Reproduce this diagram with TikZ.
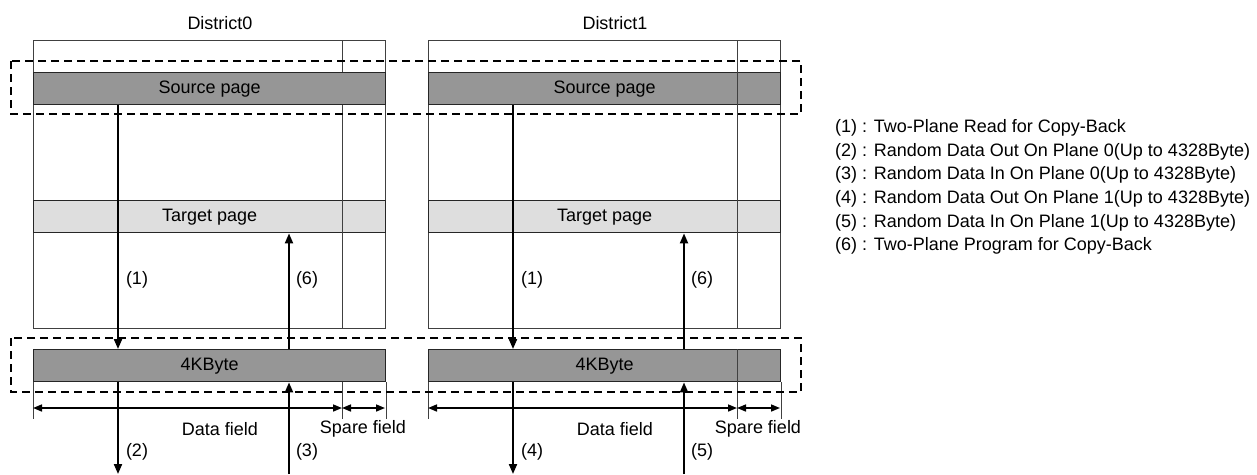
\documentclass[tikz,border=0pt]{standalone}
\usepackage{fontspec}
\setmainfont{Liberation Sans}
\usetikzlibrary{arrows.meta}
\definecolor{bardark}{gray}{0.59}
\definecolor{barlight}{gray}{0.87}
\definecolor{edgegray}{gray}{0.25}

\begin{document}
\begin{tikzpicture}[
    x=1pt,y=-1pt,
    font=\fontsize{18}{21}\selectfont,
    frame/.style={draw=edgegray,line width=1pt},
    bar/.style={draw=black!85,line width=1.4pt,minimum width=352pt,minimum height=32pt,inner sep=0pt,anchor=north west},
    grp/.style={draw,line width=1.5pt,dash pattern=on 8pt off 5pt},
    arr/.style={-{Triangle[length=10pt,width=8pt]},line width=2pt},
    dim/.style={{Triangle[length=9pt,width=7pt]}-{Triangle[length=9pt,width=7pt]},line width=1.6pt}
]
\useasboundingbox (0,0) rectangle (1257,474);

\foreach \d/\ox/\la/\lb in {0/0/2/3,1/395/4/5}{
  % district frame with spare column
  \node[frame,minimum width=352pt,minimum height=288pt,inner sep=0pt,anchor=north west] (dist\d) at (33+\ox,40) {};
  \node (lbl\d) at (220+\ox,23) {District\d};
  \coordinate (sp\d) at (342+\ox,40);
  \draw[frame] (sp\d) -- (sp\d |- dist\d.south);
  % pages and buffer
  \node[bar,fill=bardark] (src\d) at (33+\ox,72) {Source page};
  \node[bar,fill=barlight] (tgt\d) at (33+\ox,200) {Target page};
  \node[bar,fill=bardark] (buf\d) at (33+\ox,349) {4KByte};
  \draw[frame] (sp\d |- tgt\d.north) -- (sp\d |- tgt\d.south);
  \ifnum\d=1
    \draw[frame] (sp\d |- src\d.north) -- (sp\d |- src\d.south);
    \draw[frame] (sp\d |- buf\d.north) -- (sp\d |- buf\d.south);
  \fi
  % field widths
  \coordinate (dl\d) at (33+\ox,408);
  \coordinate (dm\d) at (342+\ox,408);
  \coordinate (dr\d) at (385+\ox,408);
  \draw[frame] (buf\d.south west) -- ++(0,37);
  \draw[frame] (dm\d |- buf\d.south) -- ++(0,37);
  \draw[frame] (buf\d.south east) -- ++(0,37);
  \draw[dim] (dl\d) -- (dm\d);
  \draw[dim] (dm\d) -- (dr\d);
  \node (df\d) at (220+\ox,429) {Data field};
  \node (sf\d) at (363+\ox,429) {Spare field};
  % transfers
  \coordinate (rd\d) at (118+\ox,474);
  \coordinate (wr\d) at (289+\ox,474);
  \draw[arr] (src\d.south -| rd\d) -- (buf\d.north -| rd\d);
  \draw[arr] (buf\d.north -| wr\d) -- (tgt\d.south -| wr\d);
  \draw[arr] (buf\d.south -| rd\d) -- (rd\d);
  \draw[arr] (wr\d) -- (buf\d.south -| wr\d);
  \node (ta\d) at (137+\ox,280) {(1)};
  \node (tb\d) at (307+\ox,280) {(6)};
  \node (tc\d) at (137+\ox,452) {(\la)};
  \node (td\d) at (307+\ox,452) {(\lb)};
}

\draw[grp] (11,61) rectangle (801,114);
\draw[grp] (11,338) rectangle (801,392);

% legend
\foreach \i/\t in {1/Two-Plane Read for Copy-Back,
                   2/Random Data Out On Plane 0(Up to 4328Byte),
                   3/Random Data In On Plane 0(Up to 4328Byte),
                   4/Random Data Out On Plane 1(Up to 4328Byte),
                   5/Random Data In On Plane 1(Up to 4328Byte),
                   6/Two-Plane Program for Copy-Back}
  \node[anchor=west,inner sep=0pt] (leg\i) at (835,128+23.6*\i-23.6) {(\i) : \t};
\end{tikzpicture}
\end{document}
